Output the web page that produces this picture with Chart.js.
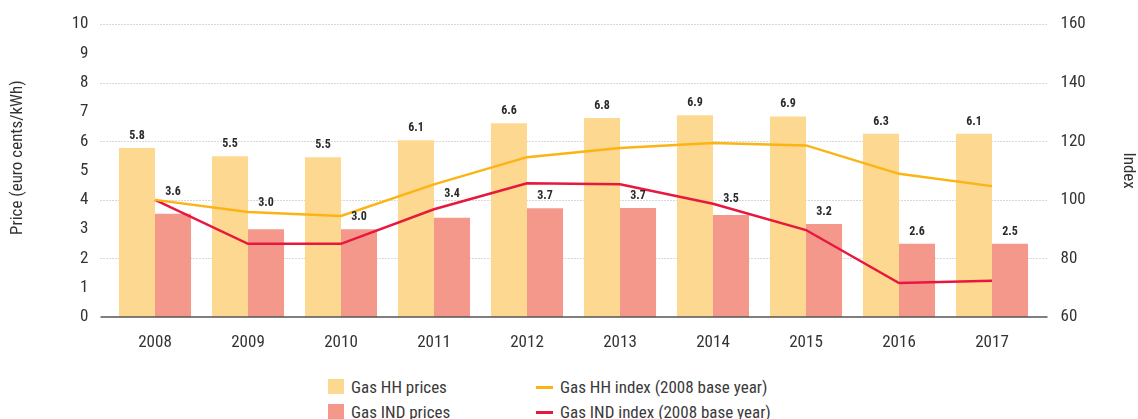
<!DOCTYPE html>
<html>
<head>
<meta charset="utf-8">
<script src="https://cdn.jsdelivr.net/npm/chart.js@4"></script>
<style>
  body { margin: 0; background: #fff; }
  #wrap { position: relative; width: 1138px; height: 419px; overflow: hidden; }
  #chart { position: absolute; left: 0; top: 0; }
  .lg { position: absolute; font: 17px "Liberation Sans Narrow", "Roboto Condensed", "Arial Narrow", sans-serif; color: #3a3a3a; white-space: nowrap; line-height: 20px; }
  .sw { position: absolute; width: 16px; height: 15px; }
  .ln { position: absolute; width: 17px; height: 3px; }
</style>
</head>
<body>
<div id="wrap">
  <canvas id="chart" width="1138" height="360"></canvas>
  <div class="sw" style="left:328px;top:379px;background:#fdd890"></div>
  <div class="lg" style="left:351px;top:377px">Gas HH prices</div>
  <div class="sw" style="left:328px;top:404px;background:#f4988c"></div>
  <div class="lg" style="left:351px;top:402px">Gas IND prices</div>
  <div class="ln" style="left:536px;top:386px;background:#fbb414"></div>
  <div class="lg" style="left:560px;top:377px">Gas HH index (2008 base year)</div>
  <div class="ln" style="left:536px;top:411px;background:#e8173e"></div>
  <div class="lg" style="left:560px;top:402px">Gas IND index (2008 base year)</div>
</div>
<script>
// 연도
const years = ['2008', '2009', '2010', '2011', '2012', '2013', '2014', '2015', '2016', '2017'];

// 가격 (euro cents/kWh) - 막대 높이
const hhPrices = [5.77, 5.49, 5.46, 6.04, 6.62, 6.8, 6.89, 6.85, 6.26, 6.26];
const indPrices = [3.53, 3.0, 3.0, 3.39, 3.71, 3.72, 3.48, 3.18, 2.5, 2.5];

// 막대 위 표시값
const hhLabels = ['5.8', '5.5', '5.5', '6.1', '6.6', '6.8', '6.9', '6.9', '6.3', '6.1'];
const indLabels = ['3.6', '3.0', '3.0', '3.4', '3.7', '3.7', '3.5', '3.2', '2.6', '2.5'];

// 지수 (2008 = 100)
const hhIndex = [100, 95.9, 94.5, 105.3, 114.6, 117.7, 119.4, 118.6, 108.9, 104.7];
const indIndex = [100, 85.0, 85.0, 96.8, 105.7, 105.3, 98.7, 89.7, 71.6, 72.4];

const FONT = '"Liberation Sans Narrow", "Roboto Condensed", "Arial Narrow", sans-serif';

// 선 위의 x 위치에서 y 픽셀 구하기
function lineYAt(meta, x) {
    const pts = meta.data;
    for (let i = 0; i < pts.length - 1; i++) {
        const a = pts[i], b = pts[i + 1];
        if (x >= a.x && x <= b.x) {
            return a.y + (b.y - a.y) * (x - a.x) / (b.x - a.x);
        }
    }
    return null;
}

// 점선 격자 (오른쪽 축 눈금 기준, 양옆으로 조금 길게)
const gridPlugin = {
    id: 'dottedGrid',
    beforeDatasetsDraw(chart) {
        const { ctx, chartArea } = chart;
        const y1 = chart.scales.y1;
        ctx.save();
        y1.ticks.forEach((t, i) => {
            const y = Math.round(y1.getPixelForValue(t.value)) + 0.5;
            if (i === 0) return;
            ctx.strokeStyle = '#b0b0b0';
            ctx.lineWidth = 1;
            ctx.setLineDash([1, 2]);
            ctx.beginPath();
            ctx.moveTo(chartArea.left - 8, y);
            ctx.lineTo(chartArea.right + 9, y);
            ctx.stroke();
        });
        ctx.restore();

        // 왼쪽 축 제목 (원본처럼 약간 위쪽)
        ctx.save();
        ctx.translate(18, (chartArea.top + chartArea.bottom) / 2 - 13);
        ctx.rotate(-Math.PI / 2);
        ctx.fillStyle = '#333';
        ctx.font = '17px ' + FONT;
        ctx.textAlign = 'center';
        ctx.textBaseline = 'middle';
        ctx.fillText('Price (euro cents/kWh)', 0, 0);
        ctx.restore();
    },
    afterDatasetsDraw(chart) {
        const { ctx, chartArea } = chart;
        const y = chart.scales.y.getPixelForValue(0);
        ctx.save();
        ctx.strokeStyle = '#555';
        ctx.lineWidth = 1.5;
        ctx.beginPath();
        ctx.moveTo(chartArea.left - 8, y);
        ctx.lineTo(chartArea.right + 9, y);
        ctx.stroke();

        // 막대 값 표시 (선과 겹치면 선 위로 올림)
        const lineMetas = [chart.getDatasetMeta(2), chart.getDatasetMeta(3)];
        ctx.fillStyle = '#2a2a2a';
        ctx.font = 'bold 12px ' + FONT;
        ctx.textAlign = 'center';
        ctx.textBaseline = 'bottom';
        [[0, hhLabels], [1, indLabels]].forEach(([di, labels]) => {
            chart.getDatasetMeta(di).data.forEach((bar, i) => {
                let bottom = bar.y - 6;
                lineMetas.forEach(lm => {
                    const ly = lineYAt(lm, bar.x);
                    if (ly !== null && ly > bottom - 12 && ly < bottom + 3) {
                        bottom = ly - 4;
                    }
                });
                ctx.fillText(labels[i], bar.x, bottom);
            });
        });
        ctx.restore();
    }
};

const ctx = document.getElementById('chart').getContext('2d');
const chart = new Chart(ctx, {
    type: 'bar',
    data: {
        labels: years,
        datasets: [
            { label: 'Gas HH prices', data: hhPrices, backgroundColor: '#fdd890', yAxisID: 'y', order: 2,
              categoryPercentage: 0.775, barPercentage: 1.0 },
            { label: 'Gas IND prices', data: indPrices, backgroundColor: '#f4988c', yAxisID: 'y', order: 2,
              categoryPercentage: 0.775, barPercentage: 1.0 },
            { type: 'line', label: 'Gas HH index (2008 base year)', data: hhIndex, borderColor: '#fbb414',
              borderWidth: 2.5, pointRadius: 0, fill: false, tension: 0, yAxisID: 'y1', order: 0 },
            { type: 'line', label: 'Gas IND index (2008 base year)', data: indIndex, borderColor: '#e8173e',
              borderWidth: 2.5, pointRadius: 0, fill: false, tension: 0, yAxisID: 'y1', order: 0 }
        ]
    },
    options: {
        responsive: false,
        animation: false,
        layout: { padding: { top: 22 } },
        plugins: { legend: { display: false }, tooltip: { enabled: false } },
        scales: {
            x: {
                grid: { display: false },
                border: { display: false },
                ticks: { color: '#333', padding: 8, font: { family: FONT, size: 17 } },
                afterFit(scale) { scale.height = 43; }
            },
            y: {
                position: 'left',
                min: 0, max: 10,
                ticks: { stepSize: 1, color: '#333', padding: 12, font: { family: FONT, size: 17 } },
                grid: { display: false },
                border: { display: false },
                afterFit(scale) { scale.width = 108.5; }
            },
            y1: {
                position: 'right',
                min: 60, max: 160,
                ticks: { stepSize: 20, color: '#333', padding: 14, font: { family: FONT, size: 17 } },
                grid: { display: false },
                border: { display: false },
                title: { display: true, text: 'Index', color: '#333', padding: { top: 0, bottom: 0 },
                         font: { family: FONT, size: 17 } },
                afterFit(scale) { scale.width = 99.5; }
            }
        }
    },
    plugins: [gridPlugin]
});
</script>
</body>
</html>
